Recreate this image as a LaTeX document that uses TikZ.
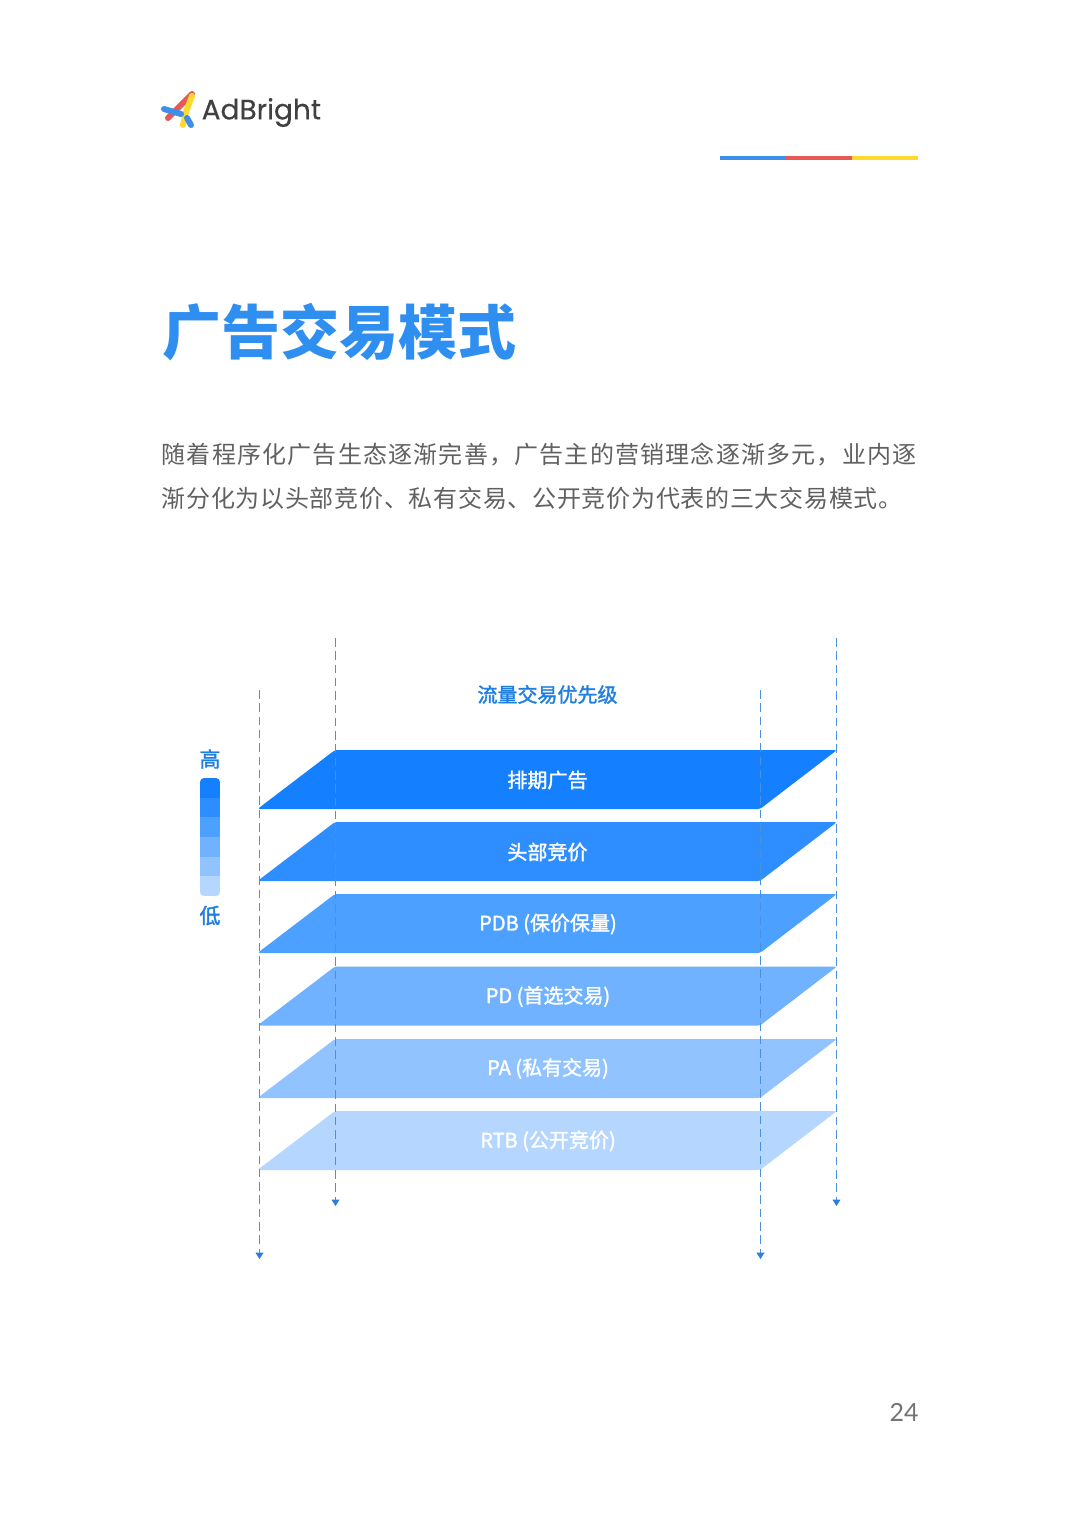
\documentclass[tikz,border=0pt]{standalone}
\usepackage{fontspec}
\usetikzlibrary{arrows.meta}
\setmainfont{Noto Sans CJK SC}
\newfontfamily\bodyfont[LetterSpace=5]{Noto Sans CJK SC}
\newfontfamily\bodyfontB[LetterSpace=3]{Noto Sans CJK SC}
\newfontfamily\medfont[FakeBold=1.6]{Noto Sans CJK SC}
\newfontfamily\logofont[FakeBold=0.4]{Poppins}
\newfontfamily\pagefont{Lato}
\definecolor{accent}{HTML}{2F8FF0}
\definecolor{guide}{HTML}{1F7FE0}
\definecolor{guideline}{HTML}{4A90DC}
\definecolor{guidetip}{HTML}{2F7FD8}
\definecolor{layA}{HTML}{1580FF}
\definecolor{layB}{HTML}{2E8DFF}
\definecolor{layC}{HTML}{4CA0FF}
\definecolor{layD}{HTML}{70B2FF}
\definecolor{layE}{HTML}{90C3FF}
\definecolor{layF}{HTML}{B4D6FF}
\tikzset{
  layer/.style={fill=#1,rounded corners=2.5pt},
  layerlabel/.style={text=white,font=\fontsize{20}{24}\medfont,inner sep=0pt,anchor=center},
  guidestroke/.style={guideline,line width=1pt,dash pattern=on 8.5pt off 4.8pt,-{Triangle[width=8pt,length=6.5pt,color=guidetip]}},
  bodyline/.style={text=black!62,inner sep=0pt,anchor=west},
  legendlabel/.style={text=guide,font=\fontsize{21}{25}\medfont,inner sep=0pt},
  logostroke/.style={line width=6pt,line cap=round}
}
\begin{document}
\begin{tikzpicture}[x=1pt,y=-1pt]
\path[use as bounding box,fill=white] (0,0) rectangle (1080,1514);
% logo
\draw[logostroke,color={rgb,255:red,232;green,88;blue,84}] (192,94) -- (168,118);
\draw[logostroke,color={rgb,255:red,255;green,217;blue,46}] (192,96) -- (186,112) -- (183,125);
\draw[logostroke,color={rgb,255:red,62;green,143;blue,232}] (164,109) -- (181,114);
\draw[logostroke,color={rgb,255:red,62;green,143;blue,232}] (187,118) -- (191,125);
\node[inner sep=0pt,anchor=west,text=black!75,font=\fontsize{28}{32}\logofont] (logotext) at (201.5,112.5) {AdBright};
% colour strip
\fill[color={rgb,255:red,62;green,143;blue,232}] (720,156.5) rectangle (786,160.5);
\fill[color={rgb,255:red,232;green,88;blue,84}] (786,156.5) rectangle (852,160.5);
\fill[color={rgb,255:red,255;green,217;blue,46}] (852,156.5) rectangle (918,160.5);
% title and body
\node[inner sep=0pt,anchor=west,text=accent,font=\fontsize{59}{64}\selectfont\bfseries] (title) at (162,332) {广告交易模式};
\node[bodyline,font=\fontsize{24}{28}\bodyfont] (bodyA) at (161.5,454) {随着程序化广告生态逐渐完善，广告主的营销理念逐渐多元，业内逐};
\node[bodyline,font=\fontsize{24}{28}\bodyfontB] (bodyB) at (161.5,498) {渐分化为以头部竞价、私有交易、公开竞价为代表的三大交易模式。};
% header
\node[inner sep=0pt,text=guide,font=\fontsize{20}{24}\medfont] (header) at (547.5,694.5) {流量交易优先级};
% legend
\node[legendlabel] (high) at (210,759) {高};
\node[legendlabel] (low) at (210,915.5) {低};
\begin{scope}
\clip[rounded corners=4pt] (200,778) rectangle (220,896);
\fill[layA] (200,778) rectangle (220,798);
\fill[layB] (200,798) rectangle (220,817);
\fill[layC] (200,817) rectangle (220,837);
\fill[layD] (200,837) rectangle (220,857);
\fill[layE] (200,857) rectangle (220,876);
\fill[layF] (200,876) rectangle (220,896);
\end{scope}
% layers
\fill[layer=layA] (257.5,809) -- (335,750) -- (837,750) -- (760,809) -- cycle;
\fill[layer=layB] (257.5,881) -- (335,822) -- (837,822) -- (760,881) -- cycle;
\fill[layer=layC] (257.5,953) -- (335,894) -- (837,894) -- (760,953) -- cycle;
\fill[layer=layD] (257.5,1025.5) -- (335,966.5) -- (837,966.5) -- (760,1025.5) -- cycle;
\fill[layer=layE] (257.5,1098) -- (335,1039) -- (837,1039) -- (760,1098) -- cycle;
\fill[layer=layF] (257.5,1170) -- (335,1111) -- (837,1111) -- (760,1170) -- cycle;
\node[layerlabel] (labA) at (547.5,780) {排期广告};
\node[layerlabel] (labB) at (547.5,852) {头部竞价};
\node[layerlabel] (labC) at (548,924) {PDB (保价保量)};
\node[layerlabel] (labD) at (548,996.5) {PD (首选交易)};
\node[layerlabel] (labE) at (548,1068.5) {PA (私有交易)};
\node[layerlabel] (labF) at (548,1141) {RTB (公开竞价)};
% guides
\coordinate (g1s) at (259.5,690); \coordinate (g1e) at (259.5,1259);
\coordinate (g2s) at (335.5,638); \coordinate (g2e) at (335.5,1206);
\coordinate (g3s) at (760.5,690); \coordinate (g3e) at (760.5,1259);
\coordinate (g4s) at (836.5,638); \coordinate (g4e) at (836.5,1206);
\draw[guidestroke] (g1s) -- (g1e);
\draw[guidestroke] (g2s) -- (g2e);
\draw[guidestroke] (g3s) -- (g3e);
\draw[guidestroke] (g4s) -- (g4e);
% page number
\node[inner sep=0pt,text=black!55,font=\fontsize{25}{30}\pagefont] (page) at (904,1412) {24};
\end{tikzpicture}
\end{document}
